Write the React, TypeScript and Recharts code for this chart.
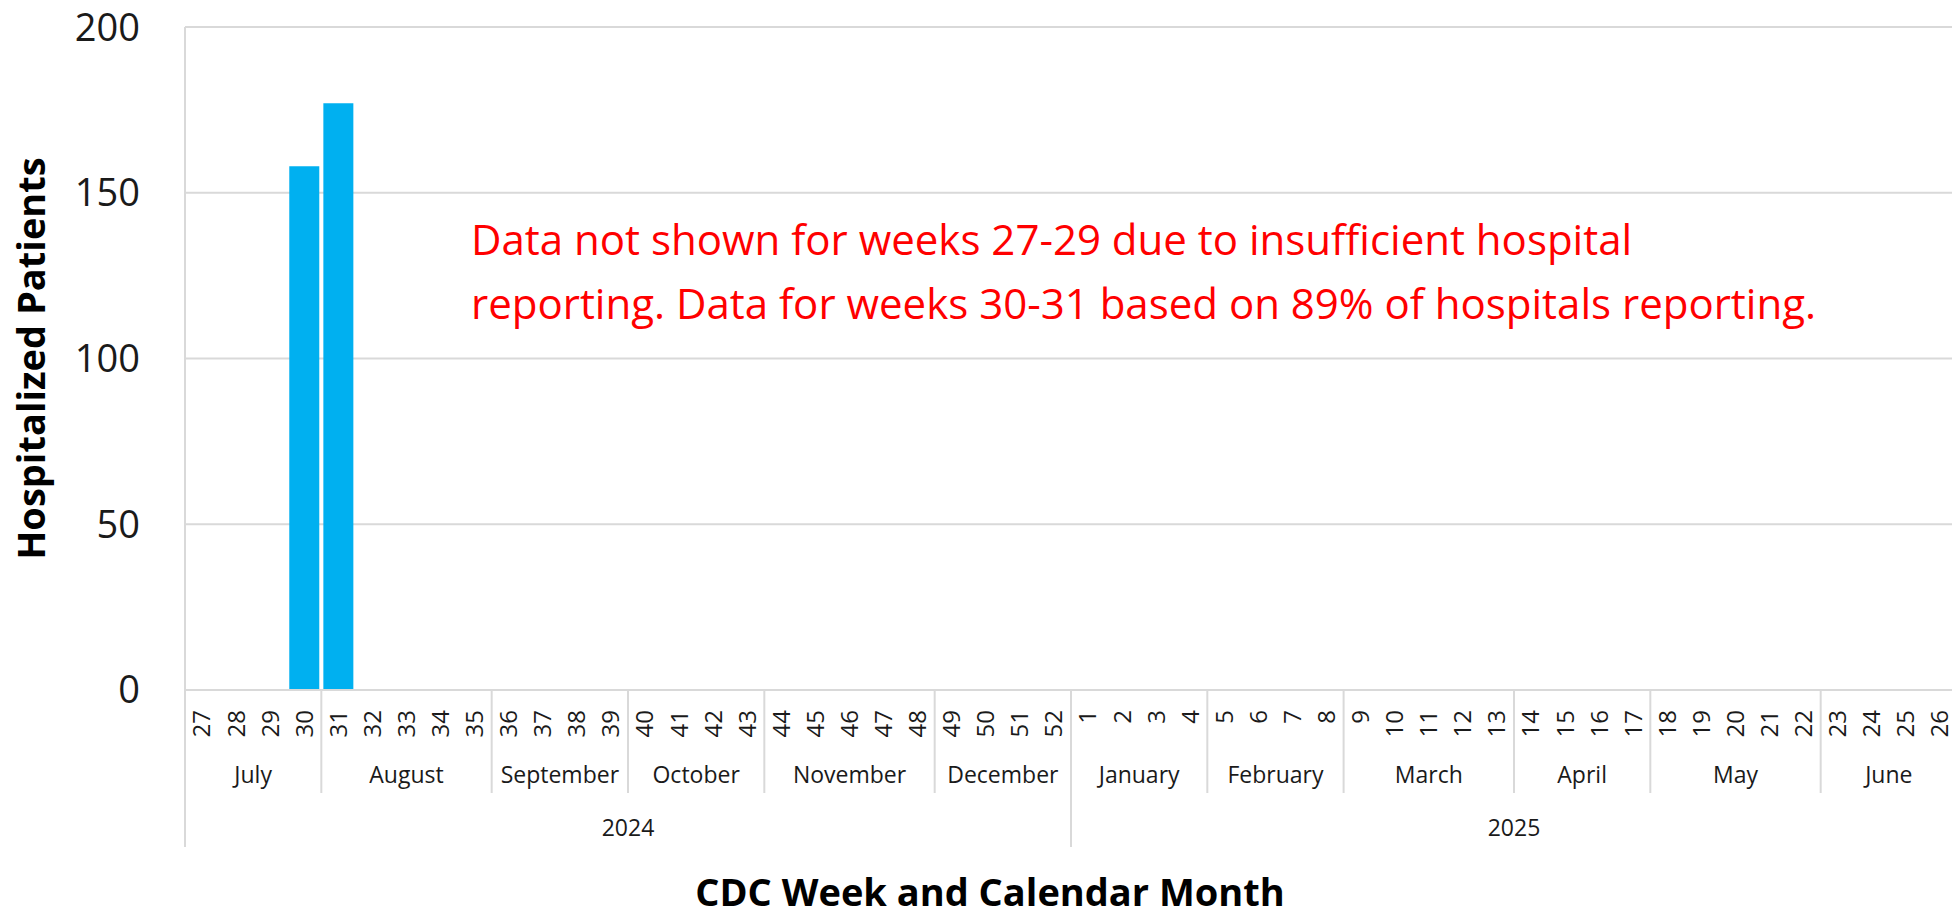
import React from 'react';
import { BarChart, Bar, XAxis, YAxis, CartesianGrid, Customized } from 'recharts';

const weeks = ['27','28','29','30','31','32','33','34','35','36','37','38','39','40','41','42','43','44','45','46','47','48','49','50','51','52','1','2','3','4','5','6','7','8','9','10','11','12','13','14','15','16','17','18','19','20','21','22','23','24','25','26'];
const patients: (number | null)[] = [null,null,null,158,177,null,null,null,null,null,null,null,null,null,null,null,null,null,null,null,null,null,null,null,null,null,null,null,null,null,null,null,null,null,null,null,null,null,null,null,null,null,null,null,null,null,null,null,null,null,null,null];
const months = ['July','August','September','October','November','December','January','February','March','April','May','June'];
const monthWeekCounts = [4,5,4,4,5,4,4,4,5,4,5,4];
const years = ['2024','2025'];
const yearWeekCounts = [26,26];
const yTicks = [0,50,100,150,200];
const noteLines = [
  'Data not shown for weeks 27-29 due to insufficient hospital',
  'reporting. Data for weeks 30-31 based on 89% of hospitals reporting.',
];

const data = weeks.map((w, i) => ({ week: w, patients: patients[i] }));

const starts = (counts: number[]) => {
  const out: { start: number; count: number }[] = [];
  let s = 0;
  counts.forEach(c => { out.push({ start: s, count: c }); s += c; });
  return out;
};
const monthGroups = starts(monthWeekCounts);
const yearGroups = starts(yearWeekCounts);

const FONT = '"Open Sans", sans-serif';
const GRID = '#d9d9d9';
const TEXT = '#1a1a1a';

const CHART_W = 1960;
const CHART_H = 923;
const PLOT_LEFT = 185;
const PLOT_RIGHT_MARGIN = 3;
const BAND = (CHART_W - PLOT_LEFT - PLOT_RIGHT_MARGIN) / weeks.length;

const WeekTick = (props: any) => {
  const { x, y, payload } = props;
  const i: number = payload.index;
  const half: number = payload.offset ?? BAND / 2;
  const band = half * 2;
  const left = x - half;
  const els: React.ReactNode[] = [];
  els.push(
    <text key="w" x={0} y={0} dy="0.35em" transform={`translate(${x},${y + 20}) rotate(-90)`}
      textAnchor="end" fontFamily={FONT} fontSize={24} fill={TEXT}>{payload.value}</text>
  );
  monthGroups.forEach((g, k) => {
    if (g.start === i) {
      els.push(<line key={`ml${k}`} x1={left} x2={left} y1={y} y2={y + 103} stroke={GRID} strokeWidth={2} />);
      els.push(
        <text key={`mt${k}`} x={left + (g.count * band) / 2} y={y + 85} dy="0.35em" textAnchor="middle"
          fontFamily={FONT} fontSize={23} fill={TEXT}>{months[k]}</text>
      );
    }
  });
  yearGroups.forEach((g, k) => {
    if (g.start === i) {
      els.push(<line key={`yl${k}`} x1={left} x2={left} y1={y} y2={y + 157} stroke={GRID} strokeWidth={2} />);
      els.push(
        <text key={`yt${k}`} x={left + (g.count * band) / 2} y={y + 138} dy="0.35em" textAnchor="middle"
          fontFamily={FONT} fontSize={23} fill={TEXT}>{years[k]}</text>
      );
    }
  });
  if (i === weeks.length - 1) {
    els.push(<line key="end" x1={x + half} x2={x + half} y1={y} y2={y + 157} stroke={GRID} strokeWidth={2} />);
  }
  return <g>{els}</g>;
};

const Note = () => (
  <g>
    {noteLines.map((t, k) => (
      <text key={k} x={471} y={255 + k * 64} fontFamily={FONT} fontSize={42} fill="#ff0000">{t}</text>
    ))}
  </g>
);

export default function App() {
  return (
    <div style={{ margin: -8, width: CHART_W, height: CHART_H }}>
      <BarChart width={CHART_W} height={CHART_H} data={data}
        margin={{ top: 27, right: PLOT_RIGHT_MARGIN, left: 0, bottom: 0 }} barCategoryGap="6%">
        <CartesianGrid vertical={false} stroke={GRID} strokeWidth={2} />
        <XAxis dataKey="week" interval={0} height={233} tickSize={0} tickMargin={0} tickLine={false}
          axisLine={{ stroke: GRID, strokeWidth: 2 }} tick={<WeekTick />}
          label={{
            content: (p: any) => {
              const vb = p.viewBox;
              return (
                <text x={vb.x + vb.width / 2 - 81} y={vb.y + 203} dy="0.35em" textAnchor="middle"
                  fontFamily={FONT} fontSize={38} fontWeight="bold" fill="#000">CDC Week and Calendar Month</text>
              );
            },
          }} />
        <YAxis width={PLOT_LEFT} domain={[0, 200]} ticks={yTicks} interval={0} tickSize={0} tickMargin={45}
          tickLine={false} axisLine={{ stroke: GRID, strokeWidth: 2 }}
          tick={{ fontFamily: FONT, fontSize: 38, fill: TEXT }}
          label={{
            content: (p: any) => {
              const vb = p.viewBox;
              const cx = vb.x + 32;
              const cy = vb.y + vb.height / 2;
              return (
                <text x={0} y={0} dy="0.35em" transform={`translate(${cx},${cy}) rotate(-90)`} textAnchor="middle"
                  fontFamily={FONT} fontSize={38} fontWeight="bold" fill="#000">Hospitalized Patients</text>
              );
            },
          }} />
        <Bar dataKey="patients" fill="#00b0f0" isAnimationActive={false} />
        <Customized component={<Note />} />
      </BarChart>
    </div>
  );
}
